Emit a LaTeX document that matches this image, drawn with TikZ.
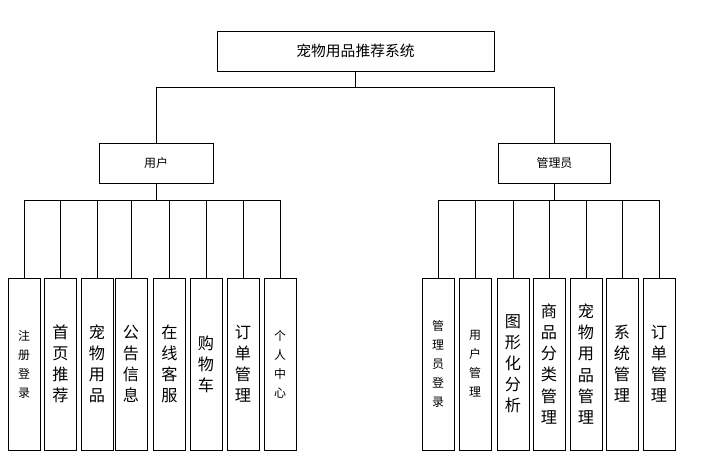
\documentclass[tikz,border=0pt]{standalone}
\usepackage{fontspec}
\setmainfont{Noto Sans CJK SC}
\begin{document}
\begin{tikzpicture}[x=0.025cm, y=-0.025cm,
  box/.style={draw, semithick, inner sep=0pt},
  leaf/.style={box, minimum width=0.8cm, minimum height=4.3cm, align=center},
  small/.style={font=\fontsize{8.5}{13.5}\selectfont},
  big/.style={font=\fontsize{11.5}{15}\selectfont}]
\useasboundingbox (0,0) rectangle (711,465);
% top levels
\node[box, minimum width=6.92cm, minimum height=1cm, font=\fontsize{10.5}{12}\selectfont] (sys) at (355.5,51) {宠物用品推荐系统};
\node[box, minimum width=2.85cm, minimum height=1cm, small] (user) at (156,163) {用户};
\node[box, minimum width=2.82cm, minimum height=1cm, small] (admin) at (554.5,163) {管理员};
\draw (sys.south) -- ++(0,16) -| (user.north);
\draw (sys.south) -- ++(0,16) -| (admin.north);

% user leaves
\node[leaf, small] (u1) at (24,364) {注\\册\\登\\录};
\node[leaf, big] (u2) at (60.5,364) {首\\页\\推\\荐};
\node[leaf, big] (u3) at (97,364) {宠\\物\\用\\品};
\node[leaf, big] (u4) at (131,364) {公\\告\\信\\息};
\node[leaf, big] (u5) at (169.5,364) {在\\线\\客\\服};
\node[leaf, big] (u6) at (206,364) {购\\物\\车};
\node[leaf, big] (u7) at (243,364) {订\\单\\管\\理};
\node[leaf, small] (u8) at (280,364) {个\\人\\中\\心};
\foreach \i in {1,...,8}
  \draw (user.south) -- ++(0,17) -| (u\i.north);

% admin leaves
\node[leaf, small] (a1) at (438,364) {管\\理\\员\\登\\录};
\node[leaf, small] (a2) at (475,364) {用\\户\\管\\理};
\node[leaf, big] (a3) at (513,364) {图\\形\\化\\分\\析};
\node[leaf, big] (a4) at (549,364) {商\\品\\分\\类\\管\\理};
\node[leaf, big] (a5) at (586,364) {宠\\物\\用\\品\\管\\理};
\node[leaf, big] (a6) at (622,364) {系\\统\\管\\理};
\node[leaf, big] (a7) at (659,364) {订\\单\\管\\理};
\foreach \i in {1,...,7}
  \draw (admin.south) -- ++(0,17) -| (a\i.north);
\end{tikzpicture}
\end{document}
